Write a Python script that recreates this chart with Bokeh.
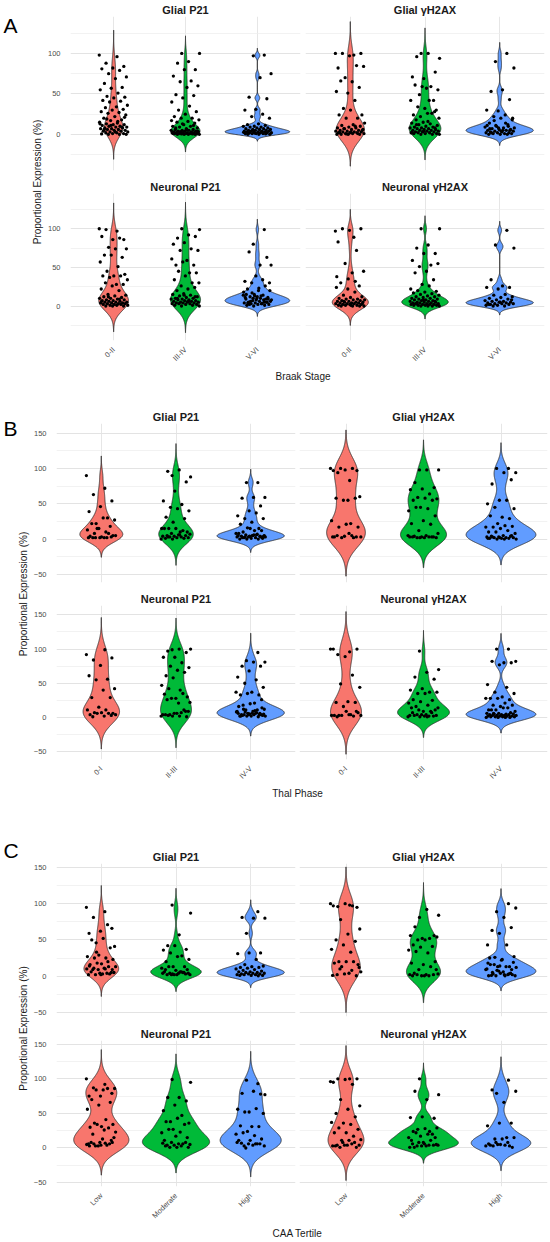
import numpy as np
from bokeh.plotting import figure
from bokeh.layouts import row, column
from bokeh.models import FixedTicker, Range1d
from bokeh.embed import file_html
from bokeh.resources import INLINE
from bokeh.core.properties import value

FONT = "Liberation Sans"
COLORS = ["#F8766D", "#00BA38", "#619CFF"]
FACETS = ["Glial P21", "Glial γH2AX", "Neuronal P21", "Neuronal γH2AX"]
Y_LABEL = "Proportional Expression (%)"
Y_MAJOR = [-50, 0, 50, 100, 150]
Y_MINOR = [-25, 25, 75, 125]

braak_cats = ["0-II", "III-IV", "V-VI"]
thal_cats = ["0-I", "II-III", "IV-V"]
caa_cats = ["Low", "Moderate", "High"]

# ---------------- Panel A: Braak stage ----------------
A_glial_p21_0II = [98,96,88,84,82,81,79,75,71,69,63,58,57,55,51,47,46,45,42,41,40,36,34,33,31,30,28,27,26,24,22,20,18,17,15,14,13,12,12,11,10,10,9,9,8,8,7,7,6,6,5,5,4,4,3,3,2,2,1,1,0.5,0,0,0,3,6,9,11,13,16,19,21]
A_glial_p21_IIIIV = [100,100,90,88,80,80,72,66,65,60,58,49,48,45,40,35,30,28,25,22,20,20,18,16,15,14,12,10,10,9,8,7,6,6,5,5,5,4,4,4,3,3,3,3,2,2,2,2,2,1,1,1,1,1,0.5,0.5,0,0,0,0,0,1,2,3,4,6,8,11,13,17]
A_glial_p21_VVI = [98,97,75,70,46,44,31,30,25,22,20,13,12,11,10,10,9,9,8,8,7,7,6,6,6,5,5,5,4,4,4,4,3,3,3,3,2,2,2,2,1,1,1,1,0,0,0,0.5,1.5,2.5,3.5]
A_glial_h2ax_0II = [100,98,100,100,97,82,85,70,84,65,66,58,51,53,42,32,24,30,24,20,20,14,12,11,10,9,8,8,7,6,6,5,5,4,4,3,3,3,2,2,2,1,1,1,0,0,0,0,10,7,5,3,2,1,0.5]
A_glial_h2ax_IIIIV = [100,94,100,96,77,69,71,59,49,55,57,61,42,59,42,42,34,30,32,24,26,22,20,26,18,28,15,14,13,12,11,10,9,9,8,8,7,7,6,6,5,5,5,4,4,3,3,3,2,2,2,1,1,1,0,0,0,16,12,8,4,2]
A_glial_h2ax_VVI = [100,90,82,55,53,43,29,30,24,22,18,20,14,12,10,9,8,7,6,6,5,5,4,4,3,3,2,2,2,1,1,1,0,0,0,11,8,5,2,5,8,11,14,17,20,4,7,10]
A_neur_p21_0II = [100,97,99,86,86,90,88,76,74,74,66,63,66,57,51,45,41,39,39,39,37,34,28,30,28,26,22,20,15,14,13,12,11,10,10,9,8,8,7,7,6,6,5,5,5,4,4,4,3,3,3,2,2,2,1,1,1,0,0,0,6,9,12]
A_neur_p21_IIIIV = [100,99,92,88,90,82,80,74,72,72,59,53,53,57,61,43,45,43,39,34,30,26,30,22,20,24,16,15,14,13,12,11,10,10,9,9,8,8,7,7,6,6,5,5,5,4,4,4,3,3,3,2,2,1,1,0,0,6,10,12,14]
A_neur_p21_VVI = [99,80,53,53,70,63,39,32,34,30,30,20,22,26,15,14,13,12,11,10,9,8,7,6,6,5,5,4,4,3,3,2,2,1,1,0,8,10,2,5,8,11,14,17,20,23,4,9,13,18,3,6,9,12,15,5,10]
A_neur_h2ax_0II = [97,89,100,100,98,83,72,55,45,43,30,26,22,24,18,14,12,11,10,9,9,8,8,7,7,6,6,5,5,5,4,4,4,3,3,3,2,2,2,1,1,1,0,0,0,0,35,38,32,6,3,1]
A_neur_h2ax_IIIIV = [100,100,79,75,68,68,59,53,51,55,45,43,34,28,22,26,20,19,18,17,16,15,14,13,12,12,11,10,10,9,9,8,8,7,7,6,6,5,5,5,4,4,4,3,3,3,2,2,2,2,1,1,1,1,0,0,0,0,3,6,8]
A_neur_h2ax_VVI = [98,79,75,26,34,24,22,24,15,14,12,11,10,9,8,7,6,6,5,5,4,4,3,3,3,2,2,1,1,0,0,8,5,2]

# ---------------- Panel B: Thal phase ----------------
B_glial_p21_0I = [90,72,63,54,46,39,30,22,27,30,22,18,15,13,10,8,5,3,4,8,15,5,2,2,3,2,2,2,2]
B_glial_p21_IIIII = [90,88,98,96,81,68,54,49,45,40,43,31,29,24,15,10,15,10,15,15,12,8,7,6,5,5,4,4,3,3,2,2,1,1,0,0,6,3]
B_glial_p21_IVV = [80,80,59,59,58,47,40,33,37,29,29,24,21,15,16,8,12,10,12,15,8,7,6,5,5,4,4,3,3,2,2,1,1,0,0,0,3,6,2,3,4,5,6,3,4,5]
B_glial_h2ax_0I = [100,83,94,97,98,97,100,100,60,55,58,58,55,26,22,17,17,21,3,2,2,3,8,5,3,4,3,5]
B_glial_h2ax_IIIII = [98,98,98,80,73,71,70,64,59,57,58,55,55,45,40,43,45,33,26,22,21,12,8,5,4,3,3,3,3,2,2,2,3,3,2,5]
B_glial_h2ax_IVV = [100,100,94,94,78,84,55,50,55,45,43,31,33,29,22,17,19,17,18,15,10,12,10,8,5,4,4,3,3,2,2,2,1,1,1,0,0,0,3,5,2,1]
B_neur_p21_0I = [92,99,84,87,76,61,56,55,42,40,29,29,15,11,11,7,6,7,4,6,6,4,2,1,3]
B_neur_p21_IIIII = [99,100,100,97,95,88,88,80,75,73,69,61,66,58,47,40,42,30,28,34,35,28,22,21,26,9,6,4,7,4,9,6,4,11,2,2,2,3,1]
B_neur_p21_IVV = [95,83,81,81,75,75,68,59,55,50,44,37,33,33,35,37,21,18,26,20,16,11,11,12,9,4,6,4,9,6,4,3,2,2,1,2,2,4,3,4,5,6,7,8,5,6,2,4,6,8,10,12,14]
B_neur_h2ax_0I = [100,96,92,100,89,100,62,49,44,23,22,22,16,3,4,3,7,9,3,2,3,3,4,1,9]
B_neur_h2ax_IIIII = [97,70,66,59,56,42,40,37,35,37,35,26,25,23,21,18,16,11,9,14,9,11,14,4,3,2,4,3,2,4,3,2,7,7,1,1,1]
B_neur_h2ax_IVV = [100,100,82,80,82,80,77,48,44,37,35,30,28,26,28,28,21,18,18,16,11,14,11,9,14,11,7,6,6,5,5,5,4,4,4,3,3,3,3,2,2,2,2,1,1,1,1,0,0,0,0,6]

# ---------------- Panel C: CAA tertile ----------------
C_glial_p21_low = [95,89,81,66,62,59,71,46,41,52,50,39,29,27,25,25,23,17,16,13,18,13,11,9,5,4,2,4,2,5,3,6,3,9,10,10,11,9,2,14,20,33]
C_glial_p21_mod = [98,87,57,42,37,42,36,28,32,23,27,20,13,13,11,6,13,9,8,6,5,2,2,4,2,3,2,4,6,4,4,2,9,5,3]
C_glial_p21_high = [89,59,80,80,81,32,32,31,23,16,14,13,12,12,11,10,9,8,7,6,6,5,5,4,4,3,3,3,2,2,2,1,1,1,0.5]
C_glial_h2ax_low = [100,98,96,95,100,97,97,78,65,58,50,48,43,37,33,20,16,20,18,20,13,6,4,2,0.5,3,1,8,10,12]
C_glial_h2ax_mod = [81,84,92,68,56,52,56,52,50,54,50,43,41,40,36,32,34,20,16,18,13,9,3,2,4,2,0.5,2,0.5,2,9,0.5,0.5]
C_glial_h2ax_high = [100,89,94,81,63,67,59,43,43,26,27,23,16,13,13,9,0.5,3,2,4,0.5,2,0.5,0.5,6,1,4,7,10,13,16,19,22,25,3,8,12,2,5,9,14,18]
C_neur_p21_low = [100,92,87,79,75,75,86,84,86,84,70,66,62,56,41,36,34,31,30,29,34,23,26,20,11,8,6,4,3,15,13,8,6,3,5,7,6,8,4,3]
C_neur_p21_mod = [99,95,73,73,68,62,54,47,38,36,43,38,34,27,22,23,27,15,17,11,6,8,5,6,4,8,4,7,3,1,1,1,3]
C_neur_p21_high = [93,98,77,82,79,78,52,56,57,52,50,31,32,31,24,20,18,22,13,11,11,6,0,3,4,7,6,6,8,6,3]
C_neur_h2ax_low = [96,100,100,100,99,95,92,70,61,56,50,45,36,37,34,29,27,22,22,17,11,12,11,4,1,4,3,6,1,4,4,3,8,8]
C_neur_h2ax_mod = [100,77,70,82,43,45,44,24,27,29,28,24,20,17,15,20,22,15,8,11,11,8,4,3,1,4,3,1,4,3,5,6,6]
C_neur_h2ax_high = [98,79,82,66,84,36,36,32,15,13,15,13,4,3,5,3,4,3,1,5,6,8,8]

# layout: L/R = (border_left, frame_width, border_right); top/bot = (border_top, frame_height, border_bottom)
PANELS = [
    dict(letter="A", xtitle="Braak Stage", cats=braak_cats, yr=(-44.65, 145.65),
         data=[[A_glial_p21_0II, A_glial_p21_IIIIV, A_glial_p21_VVI],
               [A_glial_h2ax_0II, A_glial_h2ax_IIIIV, A_glial_h2ax_VVI],
               [A_neur_p21_0II, A_neur_p21_IIIIV, A_neur_p21_VVI],
               [A_neur_h2ax_0II, A_neur_h2ax_IIIIV, A_neur_h2ax_VVI]],
         ylw=44, L=(17, 239, 2), R=(3, 239, 4), top=(16, 154, 5), bot=(18, 154, 22), xh=17,
         letter_x=3, letter_base=25, ylab_x=37, xt_y=6.5),
    dict(letter="B", xtitle="Thal Phase", cats=thal_cats, yr=(-61.5, 163.7),
         data=[[B_glial_p21_0I, B_glial_p21_IIIII, B_glial_p21_IVV],
               [B_glial_h2ax_0I, B_glial_h2ax_IIIII, B_glial_h2ax_IVV],
               [B_neur_p21_0I, B_neur_p21_IIIII, B_neur_p21_IVV],
               [B_neur_h2ax_0I, B_neur_h2ax_IIIII, B_neur_h2ax_IVV]],
         ylw=30, L=(17, 248, 2), R=(2, 248, 1), top=(37, 159, 5), bot=(18, 159, 22), xh=17,
         letter_x=3, letter_base=42, ylab_x=22.5, xt_y=6.7),
    dict(letter="C", xtitle="CAA Tertile", cats=caa_cats, yr=(-55.7, 155.4),
         data=[[C_glial_p21_low, C_glial_p21_mod, C_glial_p21_high],
               [C_glial_h2ax_low, C_glial_h2ax_mod, C_glial_h2ax_high],
               [C_neur_p21_low, C_neur_p21_mod, C_neur_p21_high],
               [C_neur_h2ax_low, C_neur_h2ax_mod, C_neur_h2ax_high]],
         ylw=30, L=(17, 248, 2), R=(2, 248, 1), top=(60, 153, 6), bot=(18, 153, 33), xh=14,
         letter_x=3, letter_base=47, ylab_x=22.5, xt_y=7),
]


def kde(vals):
    v = np.asarray(vals, float)
    n = len(v)
    sd = v.std(ddof=1)
    q75, q25 = np.percentile(v, [75, 25])
    lo = min(sd, (q75 - q25) / 1.34)
    if lo <= 0:
        lo = sd
    bw = 0.9 * lo * n ** -0.2
    grid = np.linspace(v.min() - 3 * bw, v.max() + 3 * bw, 512)
    dens = np.exp(-0.5 * ((grid[:, None] - v[None, :]) / bw) ** 2).sum(1) / (n * bw * np.sqrt(2 * np.pi))
    return grid, dens


def make_facet(title, groups, cats, yr, horiz, vert, show_x, show_y):
    bl, fw, br = horiz
    bt, fh, bb = vert
    p = figure(width=bl + fw + br, height=bt + fh + bb,
               x_range=Range1d(0.4, 3.6), y_range=Range1d(yr[0], yr[1]),
               output_backend="svg", toolbar_location=None,
               x_axis_location="below" if show_x else None,
               y_axis_location="left" if show_y else None,
               min_border_left=bl, min_border_right=br,
               min_border_top=bt, min_border_bottom=bb, title=title)
    p.title.align = "center"
    p.title.text_font = FONT
    p.title.text_font_size = "11px"
    p.title.text_font_style = "bold"
    p.title.text_color = "#1A1A1A"
    p.title.standoff = 2
    p.outline_line_color = None
    p.background_fill_color = "white"
    p.border_fill_color = "white"

    p.xgrid.ticker = FixedTicker(ticks=[1, 2, 3])
    p.xgrid.grid_line_color = "#E6E6E6"
    p.xgrid.grid_line_width = 1
    p.ygrid.ticker = FixedTicker(ticks=Y_MAJOR, minor_ticks=Y_MINOR)
    p.ygrid.grid_line_color = "#E3E3E3"
    p.ygrid.grid_line_width = 1
    p.ygrid.minor_grid_line_color = "#ECECEC"
    p.ygrid.minor_grid_line_width = 0.7

    for ax in p.axis:
        ax.axis_line_color = None
        ax.major_tick_line_color = None
        ax.minor_tick_line_color = None
        ax.major_label_text_font = FONT
        ax.major_label_text_font_size = "7.5px"
        ax.major_label_text_color = "#4D4D4D"
    if show_y:
        p.yaxis.ticker = FixedTicker(ticks=Y_MAJOR)
        p.yaxis.major_label_standoff = 4
    if show_x:
        p.xaxis.ticker = FixedTicker(ticks=[1, 2, 3])
        p.xaxis.major_label_overrides = {1: cats[0], 2: cats[1], 3: cats[2]}
        p.xaxis.major_label_orientation = np.pi / 4
        p.xaxis.major_label_standoff = 2

    kdes = [kde(v) for v in groups]
    mx = max(d.max() for _, d in kdes)
    for i, (g, d) in enumerate(kdes):
        c = i + 1
        hw = 0.45 * d / mx
        p.patch(np.concatenate([c + hw, (c - hw)[::-1]]), np.concatenate([g, g[::-1]]),
                fill_color=COLORS[i], line_color="#262626", line_width=0.8)
    for i, v in enumerate(groups):
        n = len(v)
        off = ((np.arange(n) * 0.618034 + 0.37 * i) % 1.0 - 0.5) * 0.4
        p.scatter(i + 1 + off, v, size=3.3, color="black", line_color=None)
    return p


def blank_fig(w, h):
    p = figure(width=w, height=h, x_range=Range1d(0, w), y_range=Range1d(0, h),
               output_backend="svg", toolbar_location=None,
               x_axis_location=None, y_axis_location=None,
               min_border=0, min_border_left=0, min_border_right=0,
               min_border_top=0, min_border_bottom=0)
    p.grid.visible = False
    p.outline_line_color = None
    p.background_fill_color = "white"
    p.border_fill_color = "white"
    return p


panels = []
for P in PANELS:
    bl, fw, br = P["L"]
    rbl, rfw, rbr = P["R"]
    top, bot = P["top"], P["bot"]
    yr = P["yr"]
    d = P["data"]
    tl = make_facet(FACETS[0], d[0], P["cats"], yr, P["L"], top, False, True)
    tr = make_facet(FACETS[1], d[1], P["cats"], yr, P["R"], top, False, False)
    bl_f = make_facet(FACETS[2], d[2], P["cats"], yr, P["L"], bot, True, True)
    br_f = make_facet(FACETS[3], d[3], P["cats"], yr, P["R"], bot, True, False)

    lw = bl + fw + br
    rw = rbl + rfw + rbr
    th = sum(top)
    bh = sum(bot)
    xh = P["xh"]
    H = th + bh + xh

    # x-axis title, centred on the facet frames
    xf = blank_fig(lw + rw, xh)
    xc = (bl + (lw + rbl + rfw)) / 2.0
    xf.text(x=[xc], y=[xh - P["xt_y"]], text=[P["xtitle"]], text_align="center",
            text_baseline="middle", text_font=value(FONT), text_font_size="10px",
            text_color="#1A1A1A")

    # panel letter and shared y-axis title
    yf = blank_fig(P["ylw"], H)
    yf.text(x=[P["letter_x"]], y=[H - P["letter_base"]], text=[P["letter"]], text_align="left",
            text_baseline="alphabetic", text_font=value(FONT), text_font_size="21px",
            text_color="#000000")
    f_top = top[0]
    f_bot = th + bot[0] + bot[1]
    ymid = (f_top + f_bot) / 2.0
    yf.text(x=[P["ylab_x"]], y=[H - ymid], text=[Y_LABEL], angle=np.pi / 2,
            text_align="center", text_baseline="middle", text_font=value(FONT),
            text_font_size="10px", text_color="#1A1A1A")

    grid_block = column(row(tl, tr), row(bl_f, br_f), xf)
    panels.append(row(yf, grid_block))

layout = column(*panels)
open("out.html", "w").write(file_html(layout, INLINE))
